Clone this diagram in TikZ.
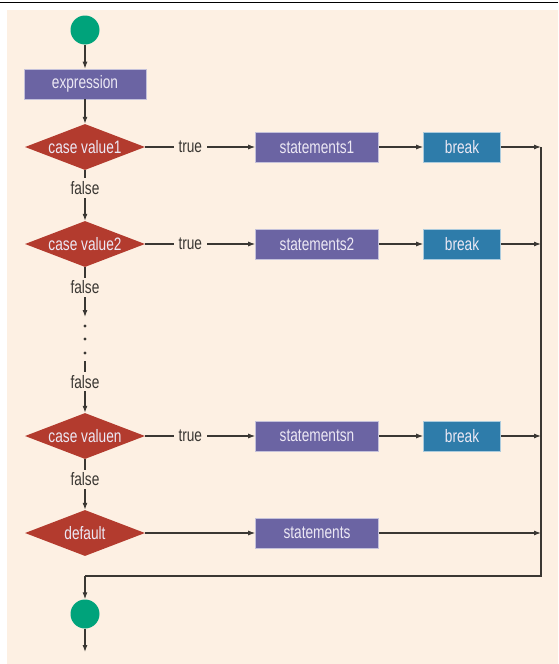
\documentclass[tikz,border=0pt]{standalone}
\usepackage{fontspec}
\setmainfont{Liberation Sans}[FakeStretch=0.76]
\usepackage{tikz}
\usetikzlibrary{arrows.meta,shapes,positioning,calc}
\usepackage{xcolor}
\definecolor{bgcream}{HTML}{FDF0E3}
\definecolor{stmtpurple}{HTML}{6B64A3}
\definecolor{breakblue}{HTML}{2E7CAA}
\definecolor{casered}{HTML}{B33B2E}
\definecolor{dotgreen}{HTML}{00A37B}
\definecolor{linegray}{HTML}{3A3733}
\definecolor{boxtext}{HTML}{ECE8F4}

\begin{document}
\begin{tikzpicture}[x=1pt, y=-1pt,
    txt/.style={font=\fontsize{18}{21}\selectfont},
    stmtbox/.style={txt, draw=white!60!stmtpurple, line width=0.6pt, fill=stmtpurple, text=boxtext, minimum width=123pt, minimum height=30pt, inner sep=0pt},
    breakbox/.style={txt, draw=white!60!breakblue, line width=0.6pt, fill=breakblue, text=boxtext, minimum width=77pt, minimum height=30pt, inner sep=0pt},
    casebox/.style={txt, diamond, fill=casered, text=boxtext, minimum width=120pt, minimum height=46pt, inner sep=0pt, aspect=2.6},
    dot/.style={circle, fill=dotgreen, minimum size=29pt, inner sep=0pt},
    flow/.style={draw=linegray, line width=1.1pt, -{Latex[length=7pt, width=5pt]}},
    wire/.style={draw=linegray, line width=1.1pt},
    lbl/.style={txt, fill=bgcream, text=linegray, inner xsep=5pt, inner ysep=3pt}]

    % frame and background
    \useasboundingbox (0,0) rectangle (558,664);
    \draw[line width=1.6pt] (0,2.5) -- (558,2.5);
    \fill[bgcream] (7,10) rectangle (558,664);

    % left column
    \node[dot] (start) at (85,30) {};
    \node[stmtbox, minimum width=122pt] (expr) at (85,84) {expression};
    \node[casebox] (c1) at (85,147) {case value1};
    \node[casebox] (c2) at (85,244) {case value2};
    \node[casebox] (c3) at (85,436) {case valuen};
    \node[casebox] (cd) at (85,533) {default};
    \node[dot] (end) at (85,614) {};

    % statements and breaks
    \node[stmtbox] (s1) at (317,147) {statements1};
    \node[stmtbox] (s2) at (317,244) {statements2};
    \node[stmtbox] (sn) at (317,436) {statementsn};
    \node[stmtbox] (sd) at (317,533) {statements};
    \node[breakbox] (b1) at (462,147) {break};
    \node[breakbox] (b2) at (462,244) {break};
    \node[breakbox] (bn) at (462,436) {break};

    % joins on the right
    \coordinate (j1) at (541,147);
    \coordinate (j2) at (541,244);
    \coordinate (jn) at (541,436);
    \coordinate (jd) at (541,533);
    \coordinate (jc) at (541,576);
    \coordinate (jl) at (85,576);
    \coordinate (exit) at (85,652);
    \coordinate (dtop) at (85,317);
    \coordinate (dbot) at (85,361);

    % main flow
    \draw[flow] (start) -- (expr);
    \draw[flow] (expr) -- (c1);
    \draw[flow] (c1) -- node[lbl, pos=0.35] {false} (c2);
    \draw[flow] (c2) -- node[lbl, pos=0.4] {false} (dtop);
    \foreach \y in {326,339,353}
        \fill[linegray] (85,\y) circle (1.6pt);
    \draw[flow] (dbot) -- node[lbl, pos=0.4] {false} (c3);
    \draw[flow] (c3) -- node[lbl, pos=0.4] {false} (cd);

    % true branches
    \draw[flow] (c1) -- node[lbl, pos=0.41] {true} (s1);
    \draw[flow] (c2) -- node[lbl, pos=0.41] {true} (s2);
    \draw[flow] (c3) -- node[lbl, pos=0.41] {true} (sn);
    \draw[flow] (cd) -- (sd);
    \draw[flow] (s1) -- (b1);
    \draw[flow] (s2) -- (b2);
    \draw[flow] (sn) -- (bn);
    \draw[flow] (b1) -- (j1);
    \draw[flow] (b2) -- (j2);
    \draw[flow] (bn) -- (jn);
    \draw[flow] (sd) -- (jd);

    % back to the exit
    \draw[wire] (j1) -- (jc) -- (jl);
    \draw[flow] (jl) -- (end);
    \draw[flow] (end) -- (exit);

\end{tikzpicture}
\end{document}
